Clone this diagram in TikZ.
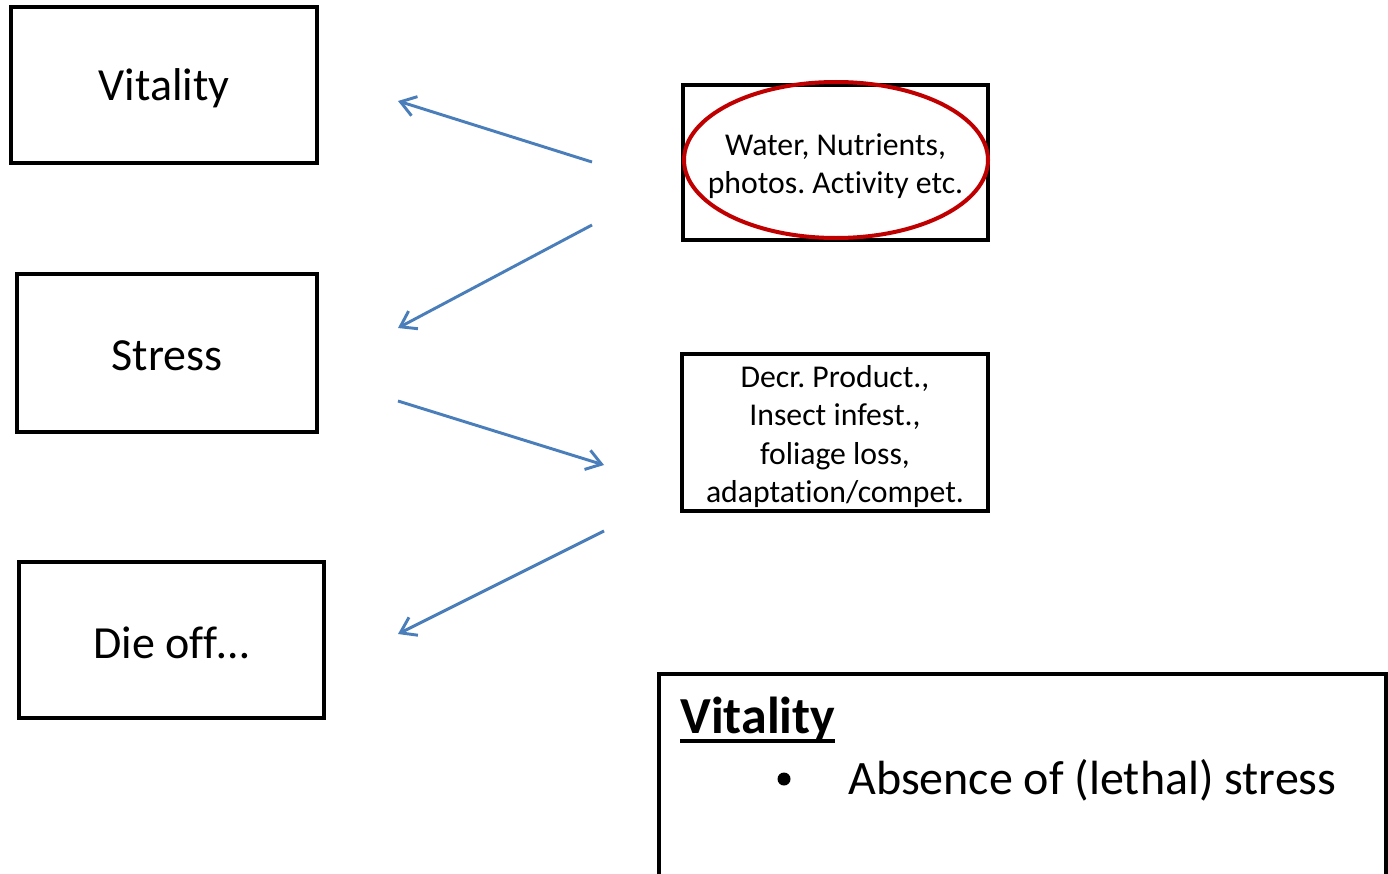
\documentclass[tikz,border=0pt]{standalone}
\usepackage{fontspec}
\setmainfont[Ligatures=NoCommon]{Carlito}
\usetikzlibrary{arrows.meta,shapes.geometric}
\definecolor{arrowblue}{HTML}{4A7EBB}
\definecolor{ovalred}{HTML}{C00000}
\newdimen\px \px=0.75pt
\frenchspacing
\begin{document}
\begin{tikzpicture}[x=0.75pt,y=-0.75pt,
  frame/.style={draw=black,line width=3.4pt,rectangle,inner sep=0pt},
  biglabel/.style={inner sep=0pt,align=center,font=\fontsize{34.5}{41}\selectfont},
  smalllabel/.style={inner sep=0pt,align=center,font=\fontsize{23.8}{28.9}\selectfont},
  flow/.style={draw=arrowblue,line width=2.2pt,-{Straight Barb[length=11pt,width=15pt]}},
  oval/.style={draw=ovalred,line width=3pt,ellipse,inner sep=0pt}
]
\useasboundingbox (0,0) rectangle (1388,874);
\clip (0,0) rectangle (1388,874);
\fill[white] (0,0) rectangle (1388,874);

\node[frame,minimum width=306\px,minimum height=156\px] (vit) at (164,85) {};
\node[biglabel] (vitlab) at (164,88) {Vitality};
\node[frame,minimum width=300\px,minimum height=158\px] (str) at (167,353) {};
\node[biglabel] (strlab) at (167,356) {Stress};
\node[frame,minimum width=305\px,minimum height=156\px] (die) at (171.5,640) {};
\node[biglabel] (dielab) at (171.5,643) {Die off…};

\node[frame,minimum width=305\px,minimum height=155\px] (water) at (835.5,162.5) {};
\node[smalllabel] (waterlab) at (835.5,166) {Water, Nutrients,\\photos. Activity etc.};
\node[oval,minimum width=304\px,minimum height=156\px] (ring) at (836,160) {};
\node[frame,minimum width=306\px,minimum height=157\px] (decr) at (835,432.5) {};
\node[smalllabel] (decrlab) at (835,436.5)
  {Decr. Product.,\\Insect infest.,\\foliage loss,\\adaptation/compet.};

\node[frame,minimum width=727\px,minimum height=216\px] (def) at (1022.5,782) {};
\node[anchor=base west,inner sep=0pt,font=\fontsize{39}{46}\selectfont\bfseries] (deftitle) at (680,733) {Vitality};
\draw[line width=2.6pt] ([yshift=-8\px]deftitle.base west) -- ([yshift=-8\px]deftitle.base east);
\node[inner sep=0pt,circle,fill=black,minimum size=13\px] (bul) at (784,779) {};
\node[anchor=base west,inner sep=0pt,font=\fontsize{36}{43}\selectfont] (deftext) at (848,794) {Absence of (lethal) stress};

\coordinate (a1s) at (592,162); \coordinate (a1e) at (398,101);
\coordinate (a2s) at (592,225); \coordinate (a2e) at (398,328);
\coordinate (a3s) at (398,401); \coordinate (a3e) at (604,465);
\coordinate (a4s) at (604,531); \coordinate (a4e) at (398,634);
\draw[flow] (a1s) -- (a1e);
\draw[flow] (a2s) -- (a2e);
\draw[flow] (a3s) -- (a3e);
\draw[flow] (a4s) -- (a4e);
\end{tikzpicture}
\end{document}
